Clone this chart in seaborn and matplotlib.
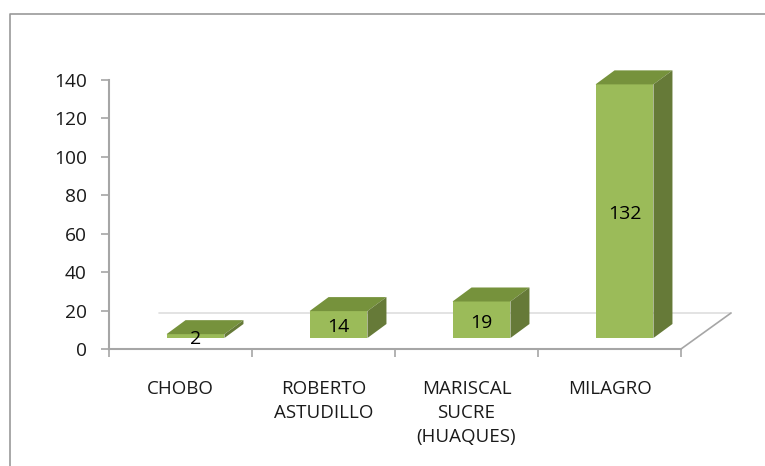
import numpy as np
import pandas as pd
import seaborn as sns
import matplotlib
matplotlib.use("Agg")
import matplotlib.pyplot as plt
from matplotlib.lines import Line2D
from matplotlib.patches import Polygon

categorias = ["CHOBO", "ROBERTO\nASTUDILLO", "MARISCAL\nSUCRE\n(HUAQUES)", "MILAGRO"]
valores = [2, 14, 19, 132]
y_ticks = [0, 20, 40, 60, 80, 100, 120, 140]

FRONT = "#9BBB59"
TOP = "#76923C"
SIDE = "#667A38"
AXIS = "#A6A6A6"
FLOOR = "#DEDEDE"

W, H = 765, 466

sns.set_style("white")
plt.rcParams["font.family"] = ["Open Sans", "DejaVu Sans"]

df = pd.DataFrame({"lugar": categorias, "valor": valores})

fig = plt.figure(figsize=(W / 100, H / 100), dpi=100, facecolor="white")
# ejes colocados en pixeles del original
ax = fig.add_axes([109 / W, 1 - 349 / H, (681 - 109) / W, (349 - 80) / H])

sns.barplot(data=df, x="lugar", y="valor", color=FRONT, saturation=1, width=0.405,
            order=categorias, ax=ax, zorder=3, linewidth=0)

ax.set_xlim(-0.5, 3.5)
ax.set_ylim(0, 140)
ax.set_xlabel("")
ax.set_ylabel("")

# escala: unidades de datos por pixel
ux = 4 / (681 - 109)
uy = 140 / (349 - 80)
dx, dy = 19 * ux, 14 * uy
base = 11 * uy
shift = 15 * ux

# piso del grafico 3D
floor_x = 50 * ux
floor_y = 36 * uy
ax.plot([-0.5 + floor_x, 3.5 + floor_x], [floor_y, floor_y], color=FLOOR, lw=1.2, clip_on=False, zorder=1)
ax.plot([3.5, 3.5 + floor_x], [0, floor_y], color=AXIS, lw=1.2, clip_on=False, zorder=1)

for p, v in zip(ax.patches, valores):
    x0 = p.get_x() + shift
    w = p.get_width()
    p.set_x(x0)
    p.set_y(base)
    p.set_clip_on(False)
    top = base + v
    x1 = x0 + w
    ax.add_patch(Polygon([(x0, top), (x1, top), (x1 + dx, top + dy), (x0 + dx, top + dy)],
                         fc=TOP, ec="none", clip_on=False, zorder=3))
    ax.add_patch(Polygon([(x1, base), (x1 + dx, base + dy), (x1 + dx, top + dy), (x1, top)],
                         fc=SIDE, ec="none", clip_on=False, zorder=3))
    ax.text(x0 + w / 2, base + v / 2 - 1.5, str(v), ha="center", va="center",
            fontsize=14, color="black", zorder=5)

ax.set_yticks(y_ticks)
ax.set_xticks(range(len(categorias)))
ax.set_xticklabels(categorias, fontsize=13.5, color="#1a1a1a", linespacing=1.43)
ax.set_xticks(np.arange(-0.5, 4), minor=True)
ax.tick_params(axis="x", which="major", length=0, pad=22)
ax.tick_params(axis="x", which="minor", length=6, width=1.2, color=AXIS, bottom=True)
ax.tick_params(axis="y", length=6, width=1.2, color=AXIS, left=True, labelsize=13.8, pad=10, labelcolor="#1a1a1a")

sns.despine(ax=ax)
for s in ["left", "bottom"]:
    ax.spines[s].set_color(AXIS)
    ax.spines[s].set_linewidth(1.5)

# marco exterior del grafico: solo izquierda y arriba
marco_x = [9.5 / W, 9.5 / W, 1]
marco_y = [0, 1 - 14 / H, 1 - 14 / H]
fig.add_artist(Line2D(marco_x, marco_y, color="#999999", lw=1.2))

fig.savefig("out.png", dpi=100)
